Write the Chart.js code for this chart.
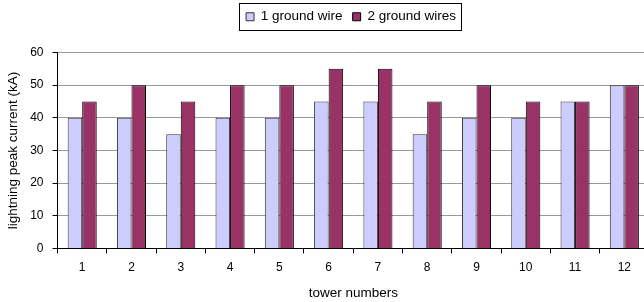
<!DOCTYPE html>
<html>
<head>
<meta charset="utf-8">
<script src="https://cdn.jsdelivr.net/npm/chart.js@4/dist/chart.umd.min.js"></script>
<style>
  html, body { margin: 0; padding: 0; background: #fff; overflow: hidden; }
  #wrap { width: 649px; height: 305px; position: relative; }
</style>
</head>
<body>
<div id="wrap"><canvas id="grafico"></canvas></div>
<script>
// tower categories and peak current values (kA)
const towers = ['1', '2', '3', '4', '5', '6', '7', '8', '9', '10', '11', '12'];
const oneWire = [40, 40, 35, 40, 40, 45, 45, 35, 40, 40, 45, 50];
const twoWires = [45, 50, 45, 50, 50, 55, 55, 45, 50, 45, 45, 50];
const yTicks = [0, 10, 20, 30, 40, 50, 60];

Chart.defaults.font.family = '"Liberation Sans", Arial, sans-serif';
Chart.defaults.font.size = 12;
Chart.defaults.color = '#000';

const LEGEND_SHIFT = 26;

// framed legend, a bit right of centre, with extra gap under it
const legendFrame = {
    id: 'legendFrame',
    afterInit(chart) {
        const lg = chart.legend;
        const fit = lg.fit;
        lg.fit = function () { fit.call(this); this.height += 19; };
        const draw = lg.draw;
        lg.draw = function () {
            const c = this.ctx;
            c.save();
            c.translate(LEGEND_SHIFT, 0);
            draw.apply(this, arguments);
            c.restore();
        };
    },
    afterDraw(chart) {
        const boxes = chart.legend.legendHitBoxes;
        if (!boxes || !boxes.length) return;
        let l = Infinity, r = -Infinity, t = Infinity, b = -Infinity;
        boxes.forEach(h => {
            l = Math.min(l, h.left); r = Math.max(r, h.left + h.width);
            t = Math.min(t, h.top); b = Math.max(b, h.top + h.height);
        });
        l += LEGEND_SHIFT; r += LEGEND_SHIFT;
        const c = chart.ctx;
        c.save();
        c.strokeStyle = '#000';
        c.lineWidth = 1;
        c.strokeRect(Math.round(l - 7) + 0.5, Math.round(t - 7) + 0.5, Math.round(r - l + 12), Math.round(b - t + 13));
        c.restore();
    }
};

const ctx = document.getElementById('grafico').getContext('2d');
const chart = new Chart(ctx, {
    type: 'bar',
    data: {
        labels: towers,
        datasets: [{
            label: '1 ground wire',
            data: oneWire,
            backgroundColor: '#CCCCFF',
            borderColor: '#333',
            borderWidth: 1
        },
        {
            label: '2 ground wires',
            data: twoWires,
            backgroundColor: '#993366',
            borderColor: '#000',
            borderWidth: 1
        }]
    },
    options: {
        responsive: true,
        maintainAspectRatio: false,
        animation: false,
        categoryPercentage: 0.59,
        barPercentage: 1.0,
        layout: { padding: { top: 0, right: 0, left: 1, bottom: 0 } },
        plugins: {
            legend: {
                position: 'top',
                labels: {
                    boxWidth: 8,
                    boxHeight: 8,
                    padding: 10,
                    font: { size: 13.5 }
                }
            },
            tooltip: { enabled: false }
        },
        scales: {
            x: {
                grid: { offset: true, drawOnChartArea: false, tickLength: 5, tickColor: '#000' },
                border: { color: '#000' },
                ticks: { padding: 7 },
                title: { display: true, text: 'tower numbers', font: { size: 13.5 }, padding: { top: 3 } }
            },
            y: {
                min: 0,
                max: 60,
                afterBuildTicks(axis) { axis.ticks = yTicks.map(v => ({ value: v })); },
                grid: { color: '#999', tickColor: '#000', tickLength: 5 },
                border: { color: '#000' },
                ticks: { padding: 9 },
                title: { display: true, text: 'lightning peak current (kA)', font: { size: 13.5 }, padding: { bottom: 0 } }
            }
        }
    },
    plugins: [legendFrame]
});
</script>
</body>
</html>
